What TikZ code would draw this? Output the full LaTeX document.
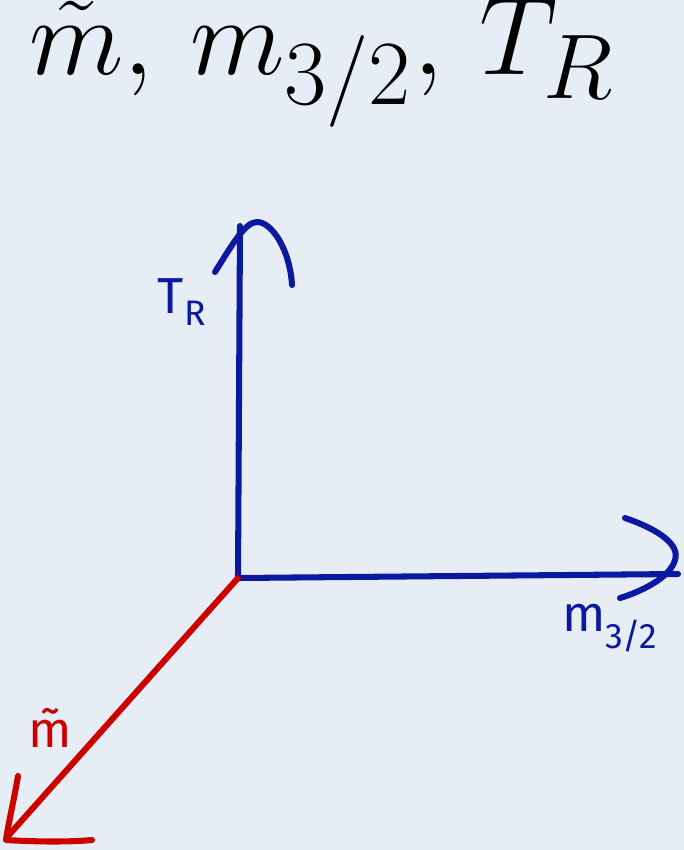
\documentclass[tikz,border=0pt]{standalone}
\usepackage{fontspec}
\usepackage{amsmath}
\usepackage{graphicx}
\usepackage{tikz}
\usetikzlibrary{positioning,calc}
\newfontfamily\handfont{Fira Sans}
\definecolor{paper}{RGB}{231,237,245}
\definecolor{axisblue}{RGB}{10,25,160}
\definecolor{axisred}{RGB}{205,0,0}

\begin{document}
\begin{tikzpicture}[x=0.025cm, y=-0.025cm,
    axis/.style={line width=4.3pt, line cap=round, line join=round},
    hand/.style={font=\handfont\fontsize{36}{38}\selectfont, inner sep=0pt}]
\fill[paper] (0,0) rectangle (684,850);
\useasboundingbox (0,0) rectangle (684,850);
% title
\node[anchor=base, inner sep=0pt] (title) at (322,74) {\scalebox{3.15}{\fontsize{24.88}{28}\selectfont$\tilde{m},\, m_{3/2},\, T_R$}};
% axes
\coordinate (origin) at (238,578);
\coordinate (tr) at (240,226);
\coordinate (mg) at (678,574);
\coordinate (ms) at (8,836);
\draw[axis, axisblue] (origin) -- (tr);
\draw[axis, axisblue] (215,272) .. controls (232,245) and (245,222) .. (257,222) .. controls (272,222) and (290,250) .. (292,285);
\draw[axis, axisblue] (origin) -- (mg);
\draw[axis, axisblue] (625,518) .. controls (660,530) and (680,545) .. (675,560) .. controls (670,578) and (640,592) .. (620,598);
\draw[axis, axisred] (origin) -- (ms);
\draw[axis, axisred] (18,776) .. controls (14,800) and (8,825) .. (6,840) .. controls (40,842) and (70,842) .. (92,840);
% labels
\node[hand, text=axisblue] (trlabel) at (182,302) {T\textsubscript{R}};
\node[hand, text=axisblue] (mglabel) at (610,628) {m\textsubscript{3/2}};
\node[hand, text=axisred] (mslabel) at (50,728) {m̃};
\end{tikzpicture}
\end{document}
